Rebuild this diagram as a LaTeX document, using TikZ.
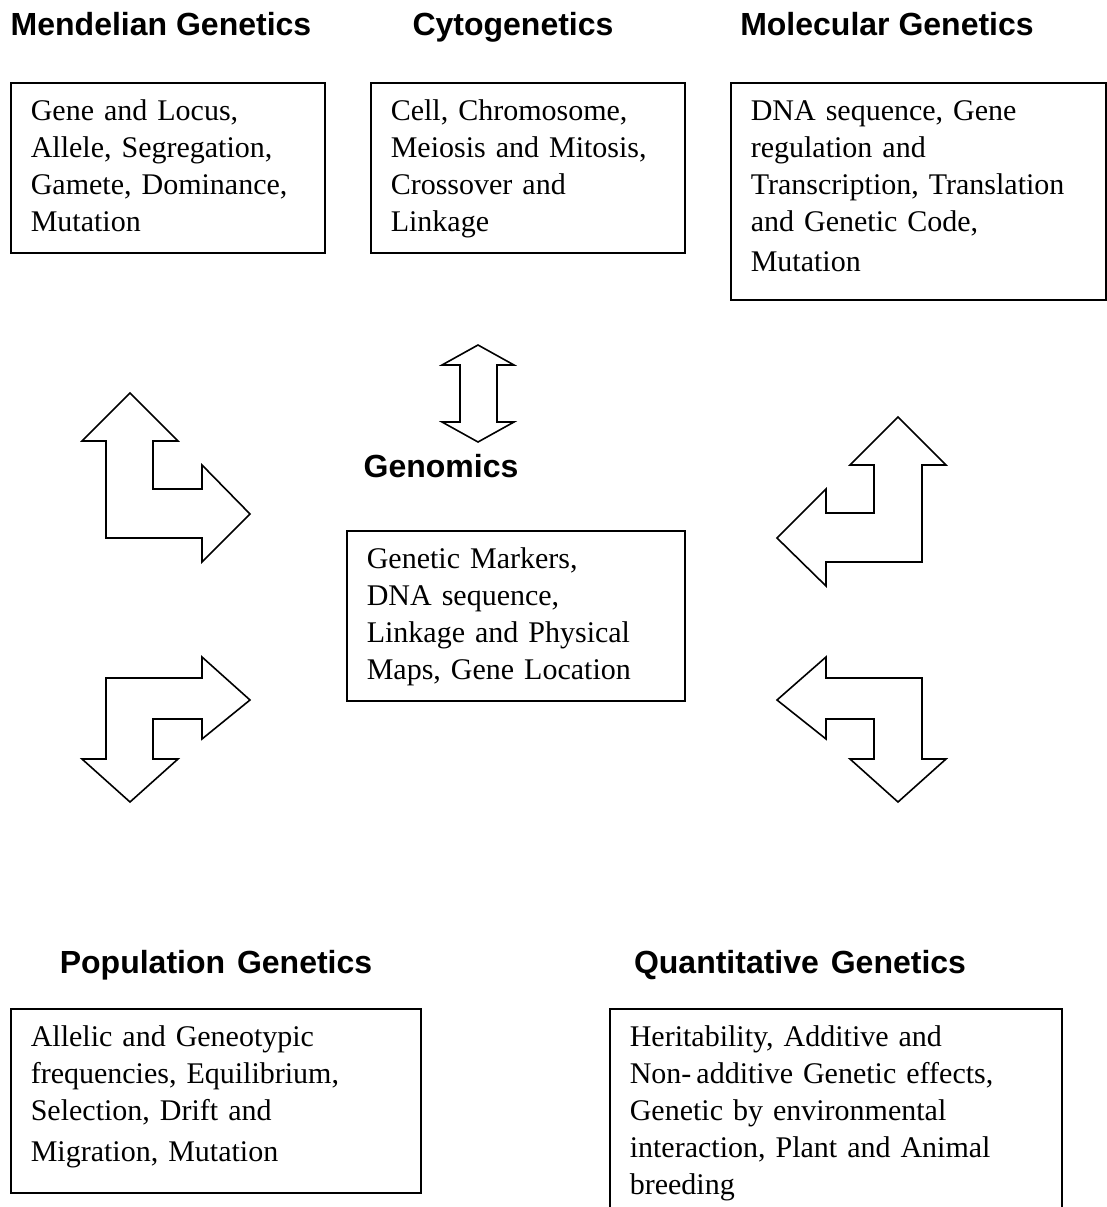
\documentclass[tikz,border=0pt]{standalone}
\usepackage{fontspec}
\setmainfont{Liberation Serif}
\setsansfont{Liberation Sans}

\begin{document}
\begin{tikzpicture}[x=1pt, y=-1pt,
    topic/.style={rectangle, draw, line width=1.6pt, anchor=north west, align=left,
                  inner xsep=20pt, inner ysep=12pt, text height=26pt,
                  font=\fontsize{30}{36.8}\selectfont},
    heading/.style={anchor=base, font=\sffamily\bfseries\fontsize{32}{38}\selectfont},
    bigarrow/.style={draw, line width=1.6pt, line join=miter, fill=white}
  ]
    \useasboundingbox (0,0) rectangle (1107,1207);

    % headings
    \node[heading] (mendelhead) at (161,36) {Mendelian Genetics};
    \node[heading] (cytohead) at (513,36) {Cytogenetics};
    \node[heading] (molhead) at (887,36) {Molecular Genetics};
    \node[heading] (genhead) at (441,477) {Genomics};
    \node[heading] (pophead) at (216,973) {Population\hspace{3pt} Genetics};
    \node[heading] (quanthead) at (800,973) {Quantitative\hspace{3pt} Genetics};

    % boxes (text depth = height - 50pt)
    \node[topic, text width=274pt, text depth=120pt] (mendel) at (10,82)
      {Gene and Locus,\\ Allele, Segregation,\\ Gamete, Dominance,\\ Mutation};
    \node[topic, text width=274pt, text depth=120pt] (cyto) at (370,82)
      {Cell, Chromosome,\\ Meiosis and Mitosis,\\ Crossover and\\ Linkage};
    \node[topic, text width=335pt, text depth=167pt] (mol) at (730,82)
      {DNA sequence, Gene\\ regulation and\\ Transcription, Translation\\ and Genetic Code,\\[3pt] Mutation};
    \node[topic, text width=298pt, text depth=120pt] (genomics) at (346,530)
      {Genetic Markers,\\ DNA sequence,\\ Linkage and Physical\\ Maps, Gene Location};
    \node[topic, text width=370pt, text depth=134pt] (pop) at (10,1008)
      {Allelic and Geneotypic\\ frequencies, Equilibrium,\\ Selection, Drift and\\[4pt] Migration, Mutation};
    \node[topic, text width=412pt, text depth=180pt] (quant) at (609,1008)
      {Heritability, Additive and\\ Non-\,additive Genetic effects,\\ Genetic by environmental\\ interaction, Plant and Animal\\ breeding};

    % block arrows
    \draw[bigarrow] (478,345) -- (514,365) -- (497,365) -- (497,422) -- (514,422)
      -- (478,442) -- (442,422) -- (460,422) -- (460,365) -- (442,365) -- cycle;
    \draw[bigarrow] (130,393) -- (178,441) -- (153,441) -- (153,489) -- (202,489)
      -- (202,465) -- (250,514) -- (202,562) -- (202,538) -- (106,538) -- (106,441)
      -- (82,441) -- cycle;
    \draw[bigarrow] (250,700) -- (202,739) -- (202,719) -- (153,719) -- (153,759)
      -- (178,759) -- (130,802) -- (82,759) -- (106,759) -- (106,678) -- (202,678)
      -- (202,657) -- cycle;
    \draw[bigarrow] (898,417) -- (946,465) -- (922,465) -- (922,562) -- (826,562)
      -- (826,586) -- (777,538) -- (826,489) -- (826,513) -- (874,513) -- (874,465)
      -- (850,465) -- cycle;
    \draw[bigarrow] (777,700) -- (826,657) -- (826,678) -- (922,678) -- (922,759)
      -- (946,759) -- (898,802) -- (850,759) -- (874,759) -- (874,719) -- (826,719)
      -- (826,739) -- cycle;
  \end{tikzpicture}
\end{document}
